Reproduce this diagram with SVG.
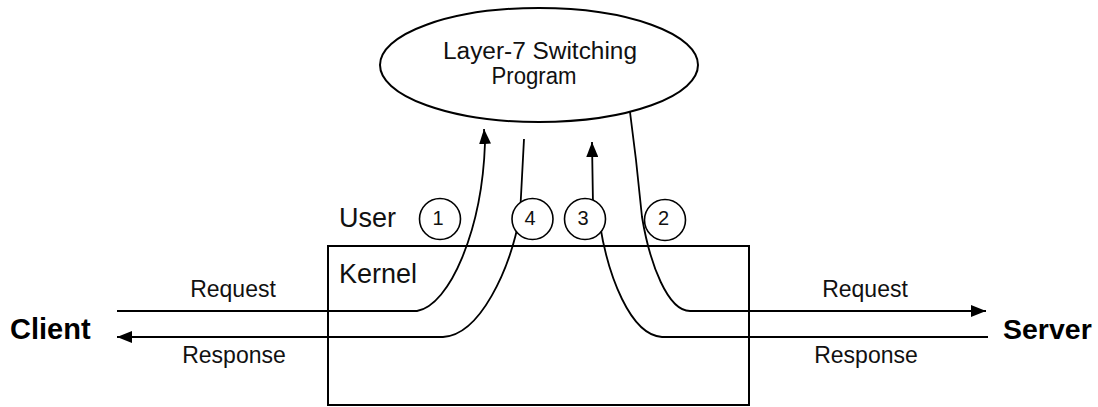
<svg xmlns="http://www.w3.org/2000/svg" width="1098" height="407" viewBox="0 0 1098 407">
<style>
  .shape { fill: none; stroke: #000; stroke-width: 2; }
  .conn { fill: none; stroke: #000; stroke-width: 1.8; }
  .circ { fill: #fff; stroke: #000; stroke-width: 1.6; }
  .t { font-family: "Liberation Sans", Arial, sans-serif; fill: #111; }
  .b { font-family: "Liberation Sans", Arial, sans-serif; font-weight: bold; fill: #000; }
</style>
<defs>
  <marker id="arr" viewBox="0 0 15 12" refX="15" refY="6" markerWidth="15" markerHeight="12" markerUnits="userSpaceOnUse" orient="auto">
    <path d="M0,0 L15,6 L0,12 z" fill="#000"/>
  </marker>
</defs>
<rect width="1098" height="407" fill="#fff"/>

<g id="program">
  <ellipse cx="539" cy="65" rx="159" ry="57" class="shape" fill="#fff"/>
  <text x="540" y="58.5" class="t" font-size="23" text-anchor="middle" textLength="194" lengthAdjust="spacingAndGlyphs">Layer-7 Switching</text>
  <text x="534" y="84" class="t" font-size="23" text-anchor="middle" textLength="85" lengthAdjust="spacingAndGlyphs">Program</text>
</g>

<g id="kernel">
  <rect x="328" y="246" width="421" height="159" class="shape"/>
  <text x="339" y="283" class="t" font-size="27">Kernel</text>
</g>

<g id="user">
  <text x="339" y="227" class="t" font-size="27">User</text>
</g>

<g id="client">
  <text x="10" y="339" class="b" font-size="29">Client</text>
</g>

<g id="server">
  <text x="1003" y="339" class="b" font-size="28.5">Server</text>
</g>

<g id="connectors">
  <path class="conn" marker-end="url(#arr)" d="M117,311 L417,311 C450,305 482,230 485,143 L484,129"/>
  <path class="conn" marker-end="url(#arr)" d="M630,112 L636,160 L642,217 C650,265 668,311 690,311 L986,311"/>
  <path class="conn" marker-end="url(#arr)" d="M988,337 L662,337 C630,335 608,275 600,225 L593,205 L592,142"/>
  <path class="conn" marker-end="url(#arr)" d="M524,139 L520,215 C510,270 480,335 443,337 L117,337"/>
  <text x="233" y="297" class="t" font-size="23" text-anchor="middle">Request</text>
  <text x="234" y="362.5" class="t" font-size="23" text-anchor="middle">Response</text>
  <text x="865" y="297" class="t" font-size="23" text-anchor="middle">Request</text>
  <text x="866" y="362.5" class="t" font-size="23" text-anchor="middle">Response</text>
</g>

<g id="step1">
  <circle cx="440" cy="219" r="20.5" class="circ"/>
  <text x="438" y="224.5" class="t" font-size="20" text-anchor="middle">1</text>
</g>
<g id="step4">
  <circle cx="532.5" cy="219" r="20.5" class="circ"/>
  <text x="530" y="224.5" class="t" font-size="20" text-anchor="middle">4</text>
</g>
<g id="step3">
  <circle cx="585" cy="219" r="20.5" class="circ"/>
  <text x="583" y="224.5" class="t" font-size="20" text-anchor="middle">3</text>
</g>
<g id="step2">
  <circle cx="665" cy="220" r="20.5" class="circ"/>
  <text x="663.5" y="224.5" class="t" font-size="20" text-anchor="middle">2</text>
</g>
</svg>
